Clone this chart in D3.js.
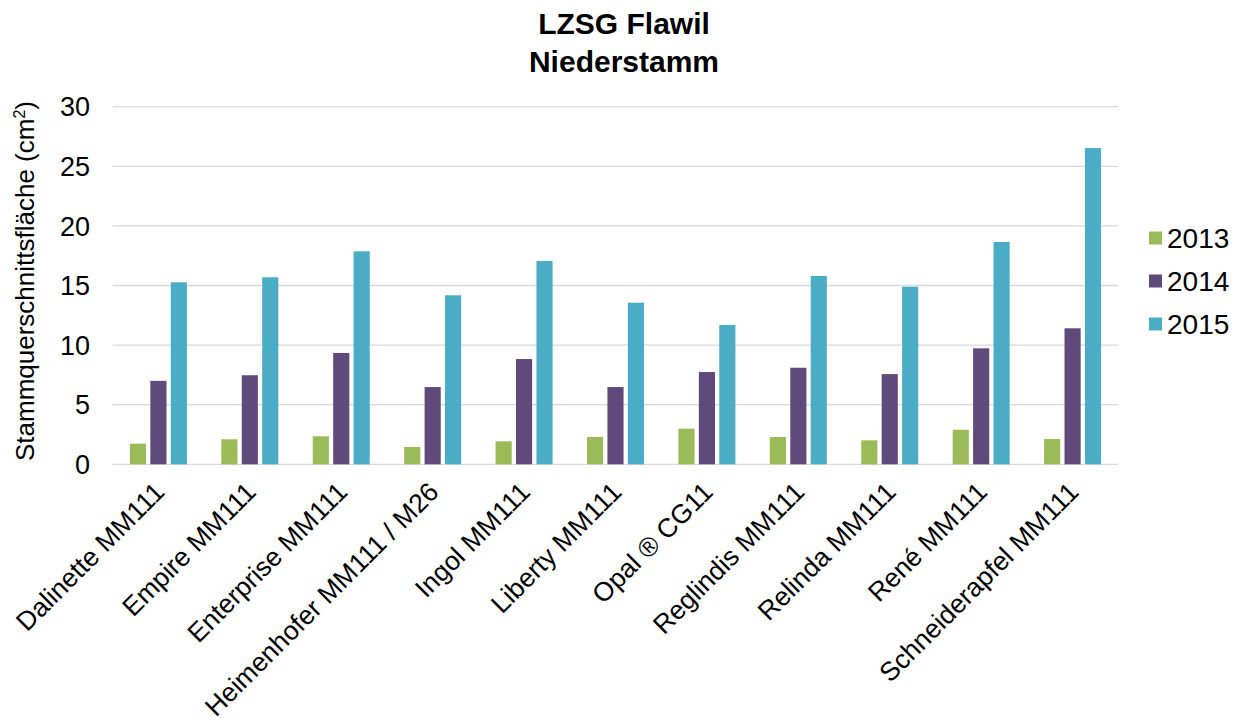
<!DOCTYPE html>
<html>
<head>
<meta charset="utf-8">
<script src="https://cdn.jsdelivr.net/npm/d3@7"></script>
<style>
  html, body { margin: 0; padding: 0; background: #fff; }
  svg text { font-family: "Liberation Sans", Arial, sans-serif; fill: #000; }
</style>
</head>
<body>
<svg id="chart" width="1239" height="725"></svg>
<script>
const categories = ["Dalinette MM111", "Empire MM111", "Enterprise MM111", "Heimenhofer MM111 / M26",
  "Ingol MM111", "Liberty MM111", "Opal \u00AE CG11", "Reglindis MM111", "Relinda MM111",
  "Ren\u00E9 MM111", "Schneiderapfel MM111"];
const seriesNames = ["2013", "2014", "2015"];
const values2013 = [1.73, 2.1, 2.35, 1.45, 1.93, 2.29, 2.99, 2.29, 2.01, 2.9, 2.12];
const values2014 = [7.0, 7.47, 9.34, 6.48, 8.83, 6.48, 7.74, 8.1, 7.57, 9.73, 11.41];
const values2015 = [15.27, 15.69, 17.87, 14.18, 17.06, 13.56, 11.69, 15.8, 14.9, 18.65, 26.53];
const yTicks = [0, 5, 10, 15, 20, 25, 30];
const colors = ["#9bbb59", "#604a7b", "#4bacc6"];

const seriesValues = [values2013, values2014, values2015];
const svg = d3.select("#chart");
const plotLeft = 112.7, plotRight = 1118.3, plotTop = 106.7, plotBottom = 464.3;

const x = d3.scaleBand().domain(categories).range([plotLeft, plotRight]).paddingInner(0).paddingOuter(0);
const groupW = 57;
const x1 = d3.scaleBand().domain(seriesNames).range([0, groupW]).paddingInner(0.21).paddingOuter(0);
const y = d3.scaleLinear().domain([0, 30]).range([plotBottom, plotTop]);

// gridlines
svg.append("g").selectAll("line").data(yTicks).join("line")
  .attr("x1", plotLeft).attr("x2", plotRight)
  .attr("y1", d => y(d)).attr("y2", d => y(d))
  .attr("stroke", "#d9d9d9").attr("stroke-width", 1.3);

// y tick labels
svg.append("g").selectAll("text").data(yTicks).join("text")
  .attr("x", 90).attr("y", d => y(d)).attr("dy", "0.36em")
  .attr("text-anchor", "end").attr("font-size", 27).text(d => d);

// bars
const groups = svg.append("g").selectAll("g").data(categories).join("g")
  .attr("transform", d => `translate(${x(d) + (x.bandwidth() - groupW) / 2},0)`);
groups.selectAll("rect").data((d, i) => seriesNames.map((s, k) => ({ s, v: seriesValues[k][i], k })))
  .join("rect")
  .attr("x", d => x1(d.s)).attr("width", x1.bandwidth())
  .attr("y", d => y(d.v)).attr("height", d => y(0) - y(d.v))
  .attr("fill", d => colors[d.k]);

// x labels
svg.append("g").selectAll("text").data(categories).join("text")
  .attr("transform", d => `translate(${x(d) + x.bandwidth() / 2 + 1},487) rotate(-45)`)
  .attr("text-anchor", "end").attr("dy", "0.35em").attr("font-size", 26.5).text(d => d);

// y axis title
const yt = svg.append("text")
  .attr("transform", "translate(25,281) rotate(-90)")
  .attr("text-anchor", "middle").attr("dy", "0.35em").attr("font-size", 26);
yt.append("tspan").text("Stammquerschnittsfläche (cm");
yt.append("tspan").attr("font-size", 16).attr("dy", "-0.6em").text("2");
yt.append("tspan").attr("dy", "0.38em").text(")");

// title
svg.append("text").attr("x", 624).attr("y", 34).attr("text-anchor", "middle")
  .attr("font-size", 30).attr("font-weight", "bold").text("LZSG Flawil");
svg.append("text").attr("x", 624).attr("y", 72).attr("text-anchor", "middle")
  .attr("font-size", 30).attr("font-weight", "bold").text("Niederstamm");

// legend
const legendY = d3.scalePoint().domain(seriesNames).range([238, 324]);
const lg = svg.append("g").selectAll("g").data(seriesNames).join("g")
  .attr("transform", d => `translate(1149,${legendY(d)})`);
lg.append("rect").attr("x", 0).attr("y", -6.5).attr("width", 13).attr("height", 13)
  .attr("fill", (d, i) => colors[i]);
lg.append("text").attr("x", 18).attr("dy", "0.36em").attr("font-size", 28).text(d => d);
</script>
</body>
</html>
